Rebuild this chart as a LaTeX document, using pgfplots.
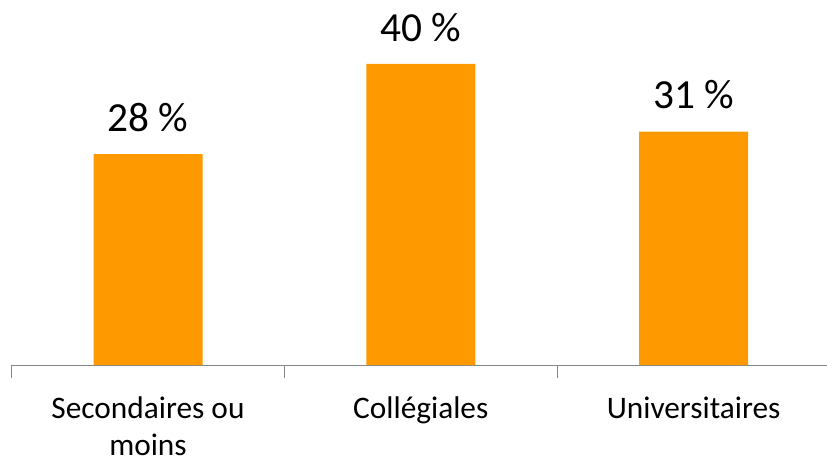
\documentclass[border=0pt]{standalone}
\usepackage{pgfplots}
\pgfplotsset{compat=1.18}
\usepackage{fontspec}
\setmainfont{Carlito}
\definecolor{barorange}{RGB}{255,153,0}
\definecolor{axgray}{RGB}{134,134,134}
\begin{document}
\begin{tikzpicture}
\useasboundingbox (0,0) rectangle (620.25pt,343.5pt);
\begin{axis}[
  at={(8.7pt,69.75pt)}, anchor=south west,
  scale only axis, width=613.8pt, height=273.75pt,
  xmin=-0.5, xmax=2.5, ymin=0, ymax=48.47,
  enlargelimits=false,
  axis x line*=bottom, axis y line=none,
  x axis line style={-, draw=axgray, line width=0.75pt},
  xtick={0,1,2},
  xticklabels={{\rule{0pt}{19pt}Secondaires ou\\moins},{\rule{0pt}{19pt}Collégiales},{\rule{0pt}{19pt}Universitaires}},
  major tick length=0pt,
  minor xtick={-0.5,0.5,1.5,2.5},
  minor tick length=9.75pt,
  tick align=outside,
  minor tick style={draw=axgray, line width=0.75pt},
  xticklabel style={font=\fontsize{23.5}{27.75}\selectfont, align=center, anchor=north, inner sep=0pt, yshift=-20.75pt},
  /pgf/number format/assume math mode=true,
  ybar, bar width=81.75pt,
  nodes near coords={\pgfmathprintnumber{\pgfplotspointmeta}~\%},
  every node near coord/.append style={font=\fontsize{31}{32}\selectfont, inner sep=0pt, anchor=base, yshift=17pt, text=black},
  clip=false,
]
\addplot[fill=barorange, draw=none] coordinates {(0,28) (1,40) (2,31)};
\end{axis}
\end{tikzpicture}
\end{document}
